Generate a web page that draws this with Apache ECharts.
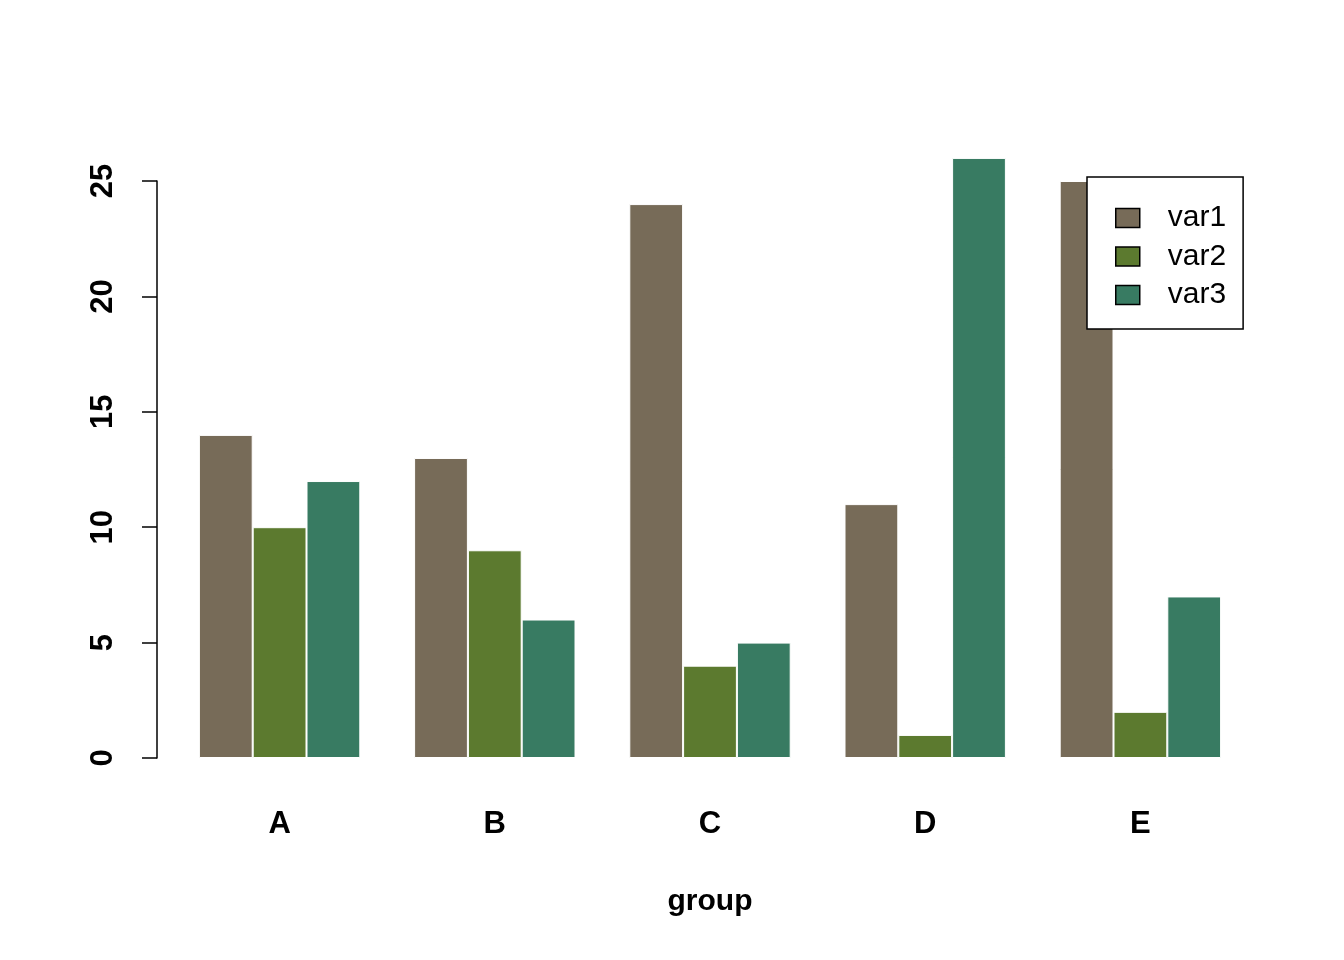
<!DOCTYPE html>
<html>
<head>
<meta charset="utf-8">
<script src="https://cdn.jsdelivr.net/npm/echarts@6/dist/echarts.min.js"></script>
<style>
html,body{margin:0;padding:0;background:#fff;}
#chart{width:1344px;height:960px;}
</style>
</head>
<body>
<div id="chart"></div>
<script>
const categories = ['A', 'B', 'C', 'D', 'E'];
const seriesNames = ['var1', 'var2', 'var3'];
const var1 = [14, 13, 24, 11, 25];
const var2 = [10, 9, 4, 1, 2];
const var3 = [12, 6, 5, 26, 7];
const yTicks = [0, 5, 10, 15, 20, 25];
const colors = ['#776B58', '#5C7A2F', '#387B62'];

const FONT = '"Liberation Sans", Arial, Helvetica, sans-serif';
const chart = echarts.init(document.getElementById('chart'), null, {renderer: 'canvas'});
const values = [var1, var2, var3];

chart.setOption({
  animation: false,
  backgroundColor: '#ffffff',
  textStyle: {fontFamily: FONT},
  grid: {left: 172, right: 96, top: 181, bottom: 202, containLabel: false},
  legend: {
    orient: 'vertical',
    left: 1087,
    top: 177,
    padding: [26, 17, 19, 28],
    itemGap: 8.5,
    itemWidth: 24,
    itemHeight: 19,
    icon: 'rect',
    borderColor: '#000',
    borderWidth: 1.5,
    borderRadius: 0,
    backgroundColor: '#fff',
    itemStyle: {borderColor: '#000', borderWidth: 1.5},
    textStyle: {fontFamily: FONT, fontSize: 30, color: '#000', lineHeight: 30, padding: [0, 0, 0, 23]},
    data: seriesNames
  },
  xAxis: {
    type: 'category',
    data: categories,
    axisLine: {show: false},
    axisTick: {show: false},
    axisLabel: {fontFamily: FONT, fontSize: 31, fontWeight: 'bold', color: '#000', margin: 51},
    name: 'group',
    nameLocation: 'middle',
    nameGap: 129,
    nameTextStyle: {fontFamily: FONT, fontSize: 30, fontWeight: 'bold', color: '#000'}
  },
  yAxis: {
    type: 'value',
    min: yTicks[0],
    max: yTicks[yTicks.length - 1],
    interval: 5,
    offset: 15,
    splitLine: {show: false},
    axisLine: {show: true, lineStyle: {color: '#000', width: 1.5}},
    axisTick: {show: true, length: 15, lineStyle: {color: '#000', width: 1.5}},
    axisLabel: {fontFamily: FONT, fontSize: 31, fontWeight: 'bold', color: '#000', rotate: 90, margin: 38}
  },
  series: seriesNames.map((name, i) => ({
    name: name,
    type: 'bar',
    data: values[i],
    clip: false,
    barGap: '0%',
    barCategoryGap: '25%',
    itemStyle: {color: colors[i], borderColor: '#ffffff', borderWidth: 1}
  }))
});
</script>
</body>
</html>
